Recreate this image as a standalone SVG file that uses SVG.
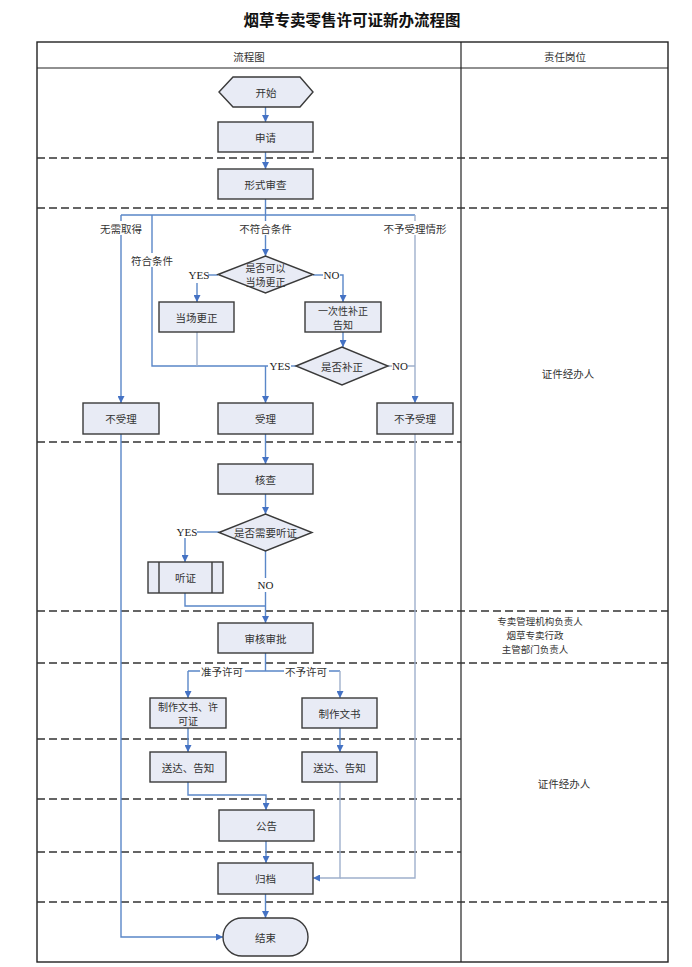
<svg xmlns="http://www.w3.org/2000/svg" width="692" height="967" viewBox="0 0 692 967">
<style>
.bx{fill:#e8ebf5;stroke:#3a3a3a;stroke-width:1.4}
.t{font-family:"Noto Sans CJK SC","Noto Sans",sans-serif;font-size:10.5px;fill:#333;text-anchor:middle;dominant-baseline:central}
.t2{font-family:"Noto Sans CJK SC","Noto Sans",sans-serif;font-size:10px;fill:#333;text-anchor:middle;dominant-baseline:central}
.t3{font-family:"Noto Sans CJK SC","Noto Sans",sans-serif;font-size:9.5px;fill:#333;text-anchor:middle;dominant-baseline:central}
.lb{font-family:"Noto Sans CJK SC","Noto Sans",sans-serif;font-size:10.5px;fill:#333;text-anchor:middle;dominant-baseline:central}
.yn{font-family:"Liberation Serif",serif;font-size:11px;fill:#222;text-anchor:middle;dominant-baseline:central}
.c{fill:none;stroke:#5a87c8;stroke-width:1.4}
.c2{fill:none;stroke:#9fb0cc;stroke-width:1.4}
.a{marker-end:url(#ah)}
.d{stroke:#333;stroke-width:1.3;stroke-dasharray:8 4;fill:none}
.g{fill:#fff}
</style>
<defs>
<marker id="ah" viewBox="0 0 10 10" refX="10" refY="5" markerWidth="7" markerHeight="7" markerUnits="userSpaceOnUse" orient="auto">
<path d="M0,0 L10,5 L0,10 Z" fill="#4472c4"/>
</marker>
</defs>
<rect width="692" height="967" fill="#fff"/>
<text x="352" y="19" font-family="'Noto Sans CJK SC',sans-serif" font-size="15.5" font-weight="bold" text-anchor="middle" dominant-baseline="central" fill="#111">烟草专卖零售许可证新办流程图</text>

<g id="table">
<rect x="37" y="42" width="631" height="920" fill="none" stroke="#222" stroke-width="1.4"/>
<line x1="37" y1="68" x2="668" y2="68" stroke="#222" stroke-width="1.2"/>
<line x1="461" y1="42" x2="461" y2="962" stroke="#222" stroke-width="1.2"/>
<text class="t" x="249" y="56">流程图</text>
<text class="t" x="565" y="56">责任岗位</text>
</g>

<g id="lanes">
<line class="d" x1="37" y1="158" x2="668" y2="158"/>
<line class="d" x1="37" y1="208" x2="668" y2="208"/>
<line class="d" x1="37" y1="442" x2="461" y2="442"/>
<line class="d" x1="37" y1="611" x2="668" y2="611"/>
<line class="d" x1="37" y1="663" x2="668" y2="663"/>
<line class="d" x1="37" y1="739" x2="461" y2="739"/>
<line class="d" x1="37" y1="799" x2="461" y2="799"/>
<line class="d" x1="37" y1="852" x2="461" y2="852"/>
<line class="d" x1="37" y1="902" x2="668" y2="902"/>
</g>

<g id="roles">
<text class="lb" x="568" y="373">证件经办人</text>
<text class="t3" x="540" y="621">专卖管理机构负责人</text>
<text class="t3" x="535" y="635">烟草专卖行政</text>
<text class="t3" x="535" y="649">主管部门负责人</text>
<text class="lb" x="564" y="783">证件经办人</text>
</g>

<g id="connectors">
<path class="c a" d="M265.5,107 V122"/>
<path class="c a" d="M265.5,152 V169"/>
<path class="c" d="M265.5,199 V215 M121,215 H415"/>
<path class="c a" d="M121,215 V403"/>
<path class="c" d="M152,215 V366 H268"/>
<path class="c2" d="M197,332 V366"/>
<path class="c" d="M291,366 H296"/>
<path class="c a" d="M265.5,366 V403"/>
<path class="c a" d="M265.5,215 V256"/>
<path class="c" d="M218,275 H208"/>
<path class="c a" d="M197,283 V302"/>
<path class="c" d="M313,275 H323"/>
<path class="c a" d="M340,275 H343 V302"/>
<path class="c a" d="M343,332 V347"/>
<path class="c2" d="M388,366 H392 M408,366 H415"/>
<path class="c2 a" d="M415,215 V403"/>
<path class="c a" d="M265.5,434 V464"/>
<path class="c a" d="M265.5,494 V514"/>
<path class="c" d="M219,532 H197"/>
<path class="c a" d="M185,538 V562"/>
<path class="c" d="M185,593 V606 H265.5"/>
<path class="c a" d="M265.5,551 V623"/>
<path class="c" d="M265.5,653 V671 M188,671 H340"/>
<path class="c a" d="M188,671 V698"/>
<path class="c2 a" d="M340,671 V698"/>
<path class="c a" d="M188,728 V752"/>
<path class="c a" d="M340,728 V752"/>
<path class="c a" d="M188,782 V795 H266 V810"/>
<path class="c a" d="M266,841 V863"/>
<path class="c2 a" d="M340,782 V878 H313"/>
<path class="c2" d="M415,434 V878 H340"/>
<path class="c a" d="M265.5,894 V918"/>
<path class="c a" d="M121,434 V937 H223"/>
<rect class="g" x="98" y="221" width="46" height="14"/>
<text class="lb" x="121" y="228">无需取得</text>
<rect class="g" x="238" y="221" width="55" height="14"/>
<text class="lb" x="265.5" y="228">不符合条件</text>
<rect class="g" x="382" y="221" width="66" height="14"/>
<text class="lb" x="415" y="228">不予受理情形</text>
<rect class="g" x="130" y="253" width="44" height="14"/>
<text class="lb" x="152" y="260">符合条件</text>
<text class="yn" x="199" y="275">YES</text>
<text class="yn" x="331.5" y="275">NO</text>
<text class="yn" x="280" y="366">YES</text>
<text class="yn" x="400" y="366">NO</text>
<text class="yn" x="187" y="532">YES</text>
<rect class="g" x="256" y="578" width="20" height="14"/>
<text class="yn" x="265.5" y="585">NO</text>
<rect class="g" x="200" y="664" width="45" height="14"/>
<text class="lb" x="222" y="671">准予许可</text>
<rect class="g" x="284" y="664" width="45" height="14"/>
<text class="lb" x="306" y="671">不予许可</text>
</g>

<g id="start">
<polygon class="bx" points="219,92 233,77 300,77 313,92 300,107 233,107"/>
<text class="t" x="266" y="92">开始</text>
</g>
<g id="apply">
<rect class="bx" x="218" y="122" width="95" height="30"/>
<text class="t" x="265.5" y="137">申请</text>
</g>
<g id="formal-review">
<rect class="bx" x="218" y="169" width="95" height="30"/>
<text class="t" x="265.5" y="184">形式审查</text>
</g>
<g id="can-correct">
<polygon class="bx" points="218,274.5 265.5,256 313,274.5 265.5,293"/>
<text class="t2" x="265.5" y="267.5">是否可以</text>
<text class="t2" x="265.5" y="281.5">当场更正</text>
</g>
<g id="correct-onsite">
<rect class="bx" x="159" y="302" width="75" height="30"/>
<text class="t" x="196.5" y="317">当场更正</text>
</g>
<g id="notify-once">
<rect class="bx" x="305" y="302" width="76" height="30"/>
<text class="t2" x="343" y="310">一次性补正</text>
<text class="t2" x="343" y="324">告知</text>
</g>
<g id="supplemented">
<polygon class="bx" points="296,366 342,347 388,366 342,385"/>
<text class="t" x="342" y="366">是否补正</text>
</g>
<g id="reject-none">
<rect class="bx" x="83" y="403" width="76" height="31"/>
<text class="t" x="121" y="418.5">不受理</text>
</g>
<g id="accept">
<rect class="bx" x="218" y="403" width="95" height="31"/>
<text class="t" x="265.5" y="418.5">受理</text>
</g>
<g id="reject">
<rect class="bx" x="377" y="403" width="76" height="31"/>
<text class="t" x="415" y="418.5">不予受理</text>
</g>
<g id="verify">
<rect class="bx" x="218" y="464" width="95" height="30"/>
<text class="t" x="265.5" y="479">核查</text>
</g>
<g id="need-hearing">
<polygon class="bx" points="219,532.5 265.5,514 312,532.5 265.5,551"/>
<text class="t" x="265.5" y="532.5">是否需要听证</text>
</g>
<g id="hearing">
<rect class="bx" x="148" y="562" width="75" height="31"/>
<line x1="159" y1="562" x2="159" y2="593" stroke="#3a3a3a" stroke-width="1.4"/>
<line x1="212" y1="562" x2="212" y2="593" stroke="#3a3a3a" stroke-width="1.4"/>
<text class="t" x="185.5" y="577.5">听证</text>
</g>
<g id="approve">
<rect class="bx" x="218" y="623" width="95" height="30"/>
<text class="t" x="265.5" y="638">审核审批</text>
</g>
<g id="make-license">
<rect class="bx" x="150" y="698" width="76" height="30"/>
<text class="t2" x="188" y="706">制作文书、许</text>
<text class="t2" x="188" y="720">可证</text>
</g>
<g id="make-doc">
<rect class="bx" x="302" y="698" width="75" height="30"/>
<text class="t" x="339.5" y="713">制作文书</text>
</g>
<g id="deliver-left">
<rect class="bx" x="150" y="752" width="76" height="30"/>
<text class="t" x="188" y="767">送达、告知</text>
</g>
<g id="deliver-right">
<rect class="bx" x="302" y="752" width="75" height="30"/>
<text class="t" x="339.5" y="767">送达、告知</text>
</g>
<g id="announce">
<rect class="bx" x="219" y="810" width="95" height="31"/>
<text class="t" x="266.5" y="825.5">公告</text>
</g>
<g id="archive">
<rect class="bx" x="218" y="863" width="95" height="31"/>
<text class="t" x="265.5" y="878.5">归档</text>
</g>
<g id="end">
<rect class="bx" x="223" y="918" width="85" height="38" rx="19" ry="19"/>
<text class="t" x="265.5" y="937">结束</text>
</g>
</svg>
